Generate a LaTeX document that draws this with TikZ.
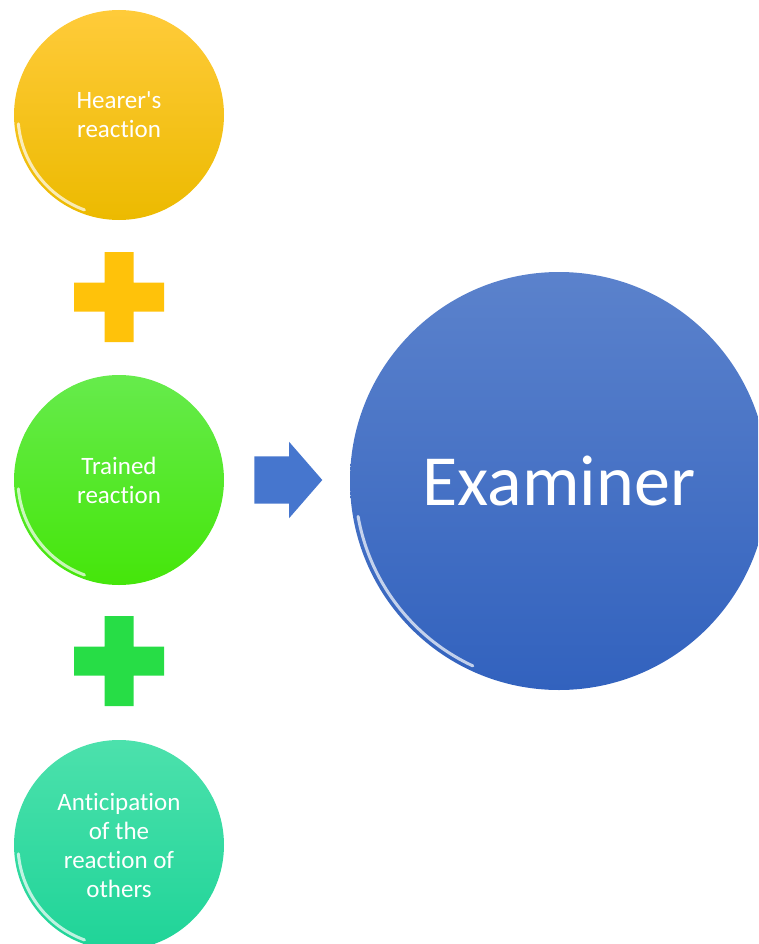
\documentclass[tikz,border=0pt]{standalone}
\usepackage{fontspec}
\setmainfont{Carlito}[Ligatures={TeXOff,NoCommon}]
\usetikzlibrary{shapes.arrows}

\definecolor{ambertop}{HTML}{FFCB3A}
\definecolor{amberbot}{HTML}{ECBA00}
\definecolor{limetop}{HTML}{66EB4C}
\definecolor{limebot}{HTML}{45E60A}
\definecolor{tealtop}{HTML}{4CE1AC}
\definecolor{tealbot}{HTML}{1FD498}
\definecolor{bluetop}{HTML}{5B82CC}
\definecolor{bluebot}{HTML}{3262BE}
\definecolor{plusamber}{HTML}{FFC20A}
\definecolor{plusgreen}{HTML}{27DD46}
\definecolor{arrowblue}{HTML}{4676CE}

\tikzset{
  bubble/.style={circle, inner sep=0pt, minimum size=210pt, text=white,
    align=center, font=\fontsize{25}{29}\selectfont},
  rim/.style={white, opacity=0.7, line width=3pt, line cap=round}
}

\begin{document}
\begin{tikzpicture}[x=1pt,y=1pt]
        \useasboundingbox (0,0) rectangle (758,-944);
        \clip (0,0) rectangle (758,-944);

        % Left column of bubbles
        \node[bubble, shade, top color=ambertop, bottom color=amberbot] (hearer) at (119,-115) {Hearer's\\reaction};
        \node[bubble, shade, top color=limetop, bottom color=limebot] (trained) at (119,-480) {Trained\\reaction};
        \node[bubble, shade, top color=tealtop, bottom color=tealbot] (anticip) at (119,-845) {Anticipation\\of the\\reaction of\\others};

        % Big bubble on the right
        \node[circle, inner sep=0pt, minimum size=418pt, shade, top color=bluetop, bottom color=bluebot,
              text=white, font=\fontsize{72}{80}\selectfont] (examiner) at (559,-481) {Examiner};

        % Glossy rims
        \foreach \b in {hearer, trained, anticip}
            \draw[rim] ([shift={(185:101pt)}]\b.center) arc (185:250:101pt);
        \draw[rim] ([shift={(190:204pt)}]examiner.center) arc (190:245:204pt);

        % Plus signs between bubbles
        \coordinate (plusA) at (119,-297);
        \coordinate (plusB) at (119,-661);
        \fill[plusamber] ([shift={(-14.5,-45)}]plusA) rectangle ([shift={(14.5,45)}]plusA)
                         ([shift={(-45,-14.5)}]plusA) rectangle ([shift={(45,14.5)}]plusA);
        \fill[plusgreen] ([shift={(-14.5,-45)}]plusB) rectangle ([shift={(14.5,45)}]plusB)
                         ([shift={(-45,-14.5)}]plusB) rectangle ([shift={(45,14.5)}]plusB);

        % Arrow towards the examiner
        \node[single arrow, fill=arrowblue, inner xsep=0pt, inner ysep=23.5pt, minimum height=68pt,
              single arrow head extend=14.5pt, single arrow tip angle=98] (toexam) at (278,-480) {};
\end{tikzpicture}
\end{document}
